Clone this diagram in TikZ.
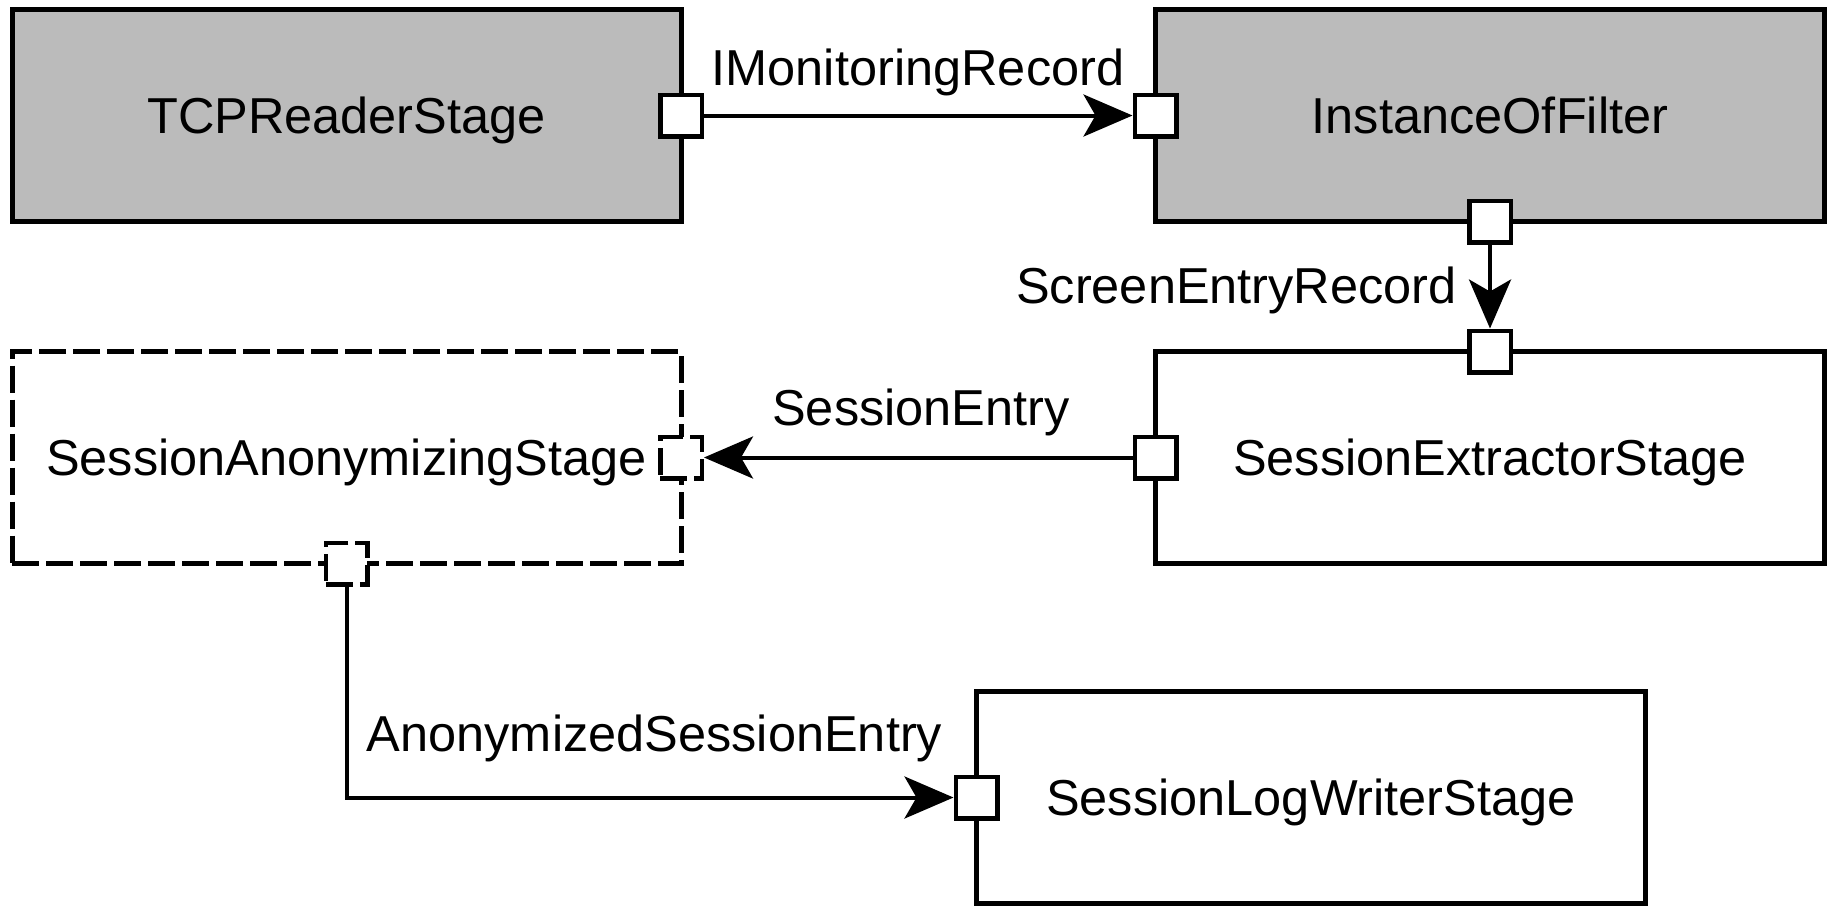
\documentclass[tikz,border=0pt]{standalone}
\usepackage{fontspec}
\setmainfont{Liberation Sans}
\usetikzlibrary{arrows.meta}
\definecolor{boxgray}{RGB}{187,187,187}
\begin{document}
\begin{tikzpicture}[x=1pt,y=-1pt,
  every node/.style={font=\fontsize{50.5}{60}\selectfont, inner sep=0pt},
  stagebox/.style={draw, line width=5pt, minimum width=669pt, minimum height=212pt, outer sep=0pt, text height=36.2pt, text depth=0pt},
  grayfill/.style={fill=boxgray},
  dashedbox/.style={dash pattern=on 27pt off 7pt},
  port/.style={draw, fill=white, line width=4.5pt, minimum size=41.5pt},
  conn/.style={line width=4pt, -{Stealth[length=49pt, width=42pt, inset=12pt]}},
  lbl/.style={anchor=base}
]
\useasboundingbox (0,0) rectangle (1833,906);
% stages
\node[stagebox, grayfill] (tcp) at (346.5,115.5) {TCPReaderStage};
\node[stagebox, grayfill] (iof) at (1490,115.5) {InstanceOfFilter};
\node[stagebox, dashedbox] (sanon) at (346.5,457.5) {SessionAnonymizingStage};
\node[stagebox] (sext) at (1490,457.5) {SessionExtractorStage};
\node[stagebox] (slog) at (1311,797.5) {SessionLogWriterStage};
% ports
\node[port] (tcpO) at (tcp.east) {};
\node[port] (iofI) at (iof.west) {};
\node[port] (iofO) at (iof.south) {};
\node[port] (sextI) at (sext.north) {};
\node[port] (sextO) at (sext.west) {};
\node[port, dashedbox] (sanonI) at (sanon.east) {};
\node[port, dashedbox] (sanonO) at (sanon.south) {};
\node[port] (slogI) at (slog.west) {};
% connectors
\draw[conn] (tcpO) -- (iofI);
\draw[conn] (iofO) -- (sextI);
\draw[conn] (sextO) -- (sanonI);
\draw[conn] (sanonO) |- (slogI);
% labels
\node[lbl] (l1) at (918,85) {IMonitoringRecord};
\node[lbl, anchor=base east] (l2) at (1457,303) {ScreenEntryRecord};
\node[lbl] (l3) at (921,425) {SessionEntry};
\node[lbl] (l4) at (654.5,751) {AnonymizedSessionEntry};
\end{tikzpicture}
\end{document}
